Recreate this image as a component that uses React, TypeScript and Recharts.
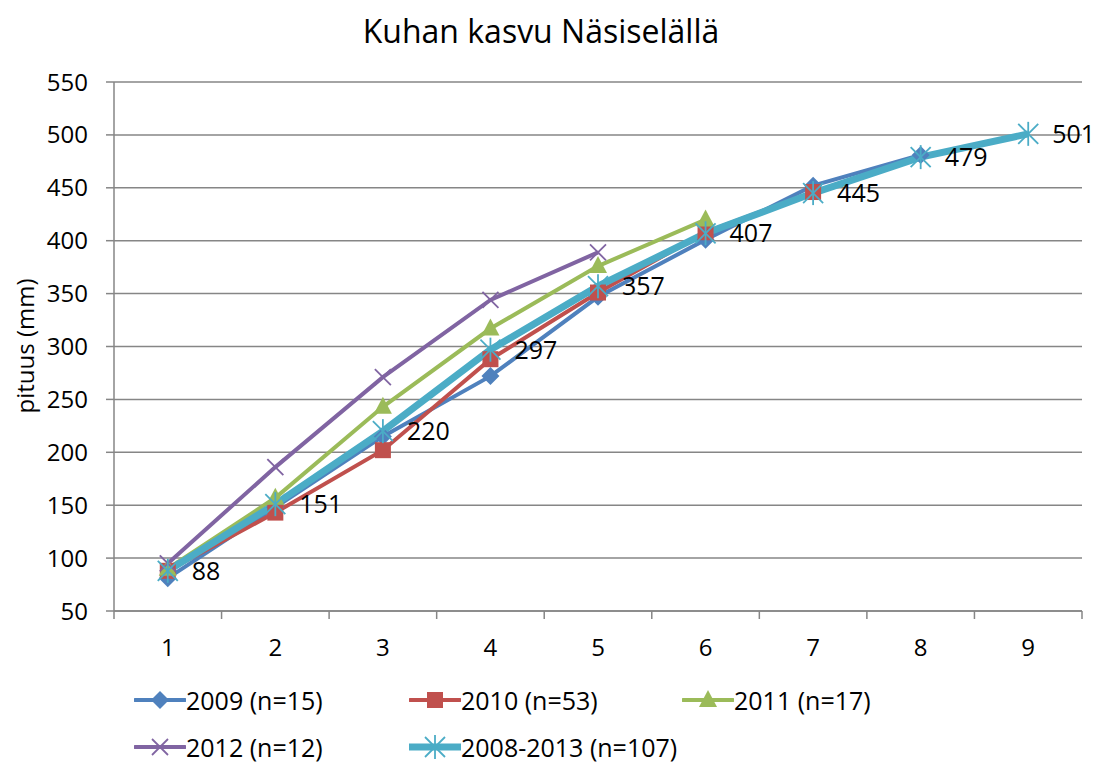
import React from "react";
import {
  LineChart,
  Line,
  XAxis,
  YAxis,
  CartesianGrid,
  LabelList,
} from "recharts";

// kasvuvuodet (ikä) ja keskipituudet (mm)
const ages = [1, 2, 3, 4, 5, 6, 7, 8, 9];
const s2009 = [81, 148, 215, 272, 347, 401, 452, 481, null];
const s2010 = [88, 143, 202, 288, 351, 408, 446, null, null];
const s2011 = [90, 157, 243, 317, 376, 420, null, null, null];
const s2012 = [95, 186, 271, 344, 389, null, null, null, null];
const sAll = [88, 151, 220, 297, 357, 407, 445, 479, 501];
const yTicks = [50, 100, 150, 200, 250, 300, 350, 400, 450, 500, 550];

const FONT = "'Open Sans', 'Liberation Sans', Arial, sans-serif";
const GRID = "#868686";

type MarkerKind = "diamond" | "square" | "triangle" | "cross" | "star";

const series: { key: string; name: string; color: string; marker: MarkerKind; width: number }[] = [
  { key: "s2009", name: "2009 (n=15)", color: "#4F81BD", marker: "diamond", width: 4 },
  { key: "s2010", name: "2010 (n=53)", color: "#C0504D", marker: "square", width: 4 },
  { key: "s2011", name: "2011 (n=17)", color: "#9BBB59", marker: "triangle", width: 4 },
  { key: "s2012", name: "2012 (n=12)", color: "#8064A2", marker: "cross", width: 4 },
  { key: "sAll", name: "2008-2013 (n=107)", color: "#4BACC6", marker: "star", width: 7 },
];

const data = ages.map((a, i) => ({
  x: a,
  s2009: s2009[i],
  s2010: s2010[i],
  s2011: s2011[i],
  s2012: s2012[i],
  sAll: sAll[i],
}));

function Marker({ kind, cx, cy, color }: { kind: MarkerKind; cx: number; cy: number; color: string }) {
  if (kind === "diamond") {
    const r = 9;
    return <polygon points={`${cx},${cy - r} ${cx + r},${cy} ${cx},${cy + r} ${cx - r},${cy}`} fill={color} />;
  }
  if (kind === "square") {
    return <rect x={cx - 8} y={cy - 8} width={16} height={16} fill={color} />;
  }
  if (kind === "triangle") {
    return <polygon points={`${cx},${cy - 10} ${cx + 9},${cy + 7} ${cx - 9},${cy + 7}`} fill={color} />;
  }
  if (kind === "cross") {
    const r = 8;
    return (
      <g stroke={color} strokeWidth={1.8}>
        <line x1={cx - r} y1={cy - r} x2={cx + r} y2={cy + r} />
        <line x1={cx - r} y1={cy + r} x2={cx + r} y2={cy - r} />
      </g>
    );
  }
  const r = 10;
  return (
    <g stroke={color} strokeWidth={1.8}>
      <line x1={cx - r} y1={cy - r} x2={cx + r} y2={cy + r} />
      <line x1={cx - r} y1={cy + r} x2={cx + r} y2={cy - r} />
      <line x1={cx} y1={cy - r - 2} x2={cx} y2={cy + r + 2} />
    </g>
  );
}

function makeDot(kind: MarkerKind, color: string) {
  return (props: any) => {
    const { cx, cy, index } = props;
    if (cx == null || cy == null || props.value == null) return <g key={`d-${kind}-${index}`} />;
    return (
      <g key={`d-${kind}-${index}`}>
        <Marker kind={kind} cx={cx} cy={cy} color={color} />
      </g>
    );
  };
}

const STEP = (1082 - 114) / 9;

function XTick(props: any) {
  const { x, y, payload, index } = props;
  return (
    <g>
      <line x1={x - STEP / 2} y1={y - 8} x2={x - STEP / 2} y2={y} stroke={GRID} strokeWidth={1.5} />
      {index === ages.length - 1 && (
        <line x1={x + STEP / 2} y1={y - 8} x2={x + STEP / 2} y2={y} stroke={GRID} strokeWidth={1.5} />
      )}
      <text x={x} y={y + 37} textAnchor="middle" fontSize={24} fontFamily={FONT} fill="#000">
        {payload.value}
      </text>
    </g>
  );
}

function ValueLabel(props: any) {
  const { x, y, value } = props;
  return (
    <text x={x + 24} y={y + 9} fontSize={25} fontFamily={FONT} fill="#000">
      {value}
    </text>
  );
}

function LegendItem({ s, left, top }: { s: (typeof series)[number]; left: number; top: number }) {
  return (
    <div style={{ position: "absolute", left, top, display: "flex", alignItems: "center" }}>
      <svg width={52} height={24}>
        <line x1={1} y1={12} x2={51} y2={12} stroke={s.color} strokeWidth={s.width} strokeLinecap="round" />
        <Marker kind={s.marker} cx={26} cy={12} color={s.color} />
      </svg>
      <span style={{ fontFamily: FONT, fontSize: 25, color: "#000", lineHeight: "24px" }}>{s.name}</span>
    </div>
  );
}

export default function App() {
  const legendPos = [
    { left: 134, top: 688 },
    { left: 409, top: 688 },
    { left: 682, top: 688 },
    { left: 134, top: 735 },
    { left: 409, top: 735 },
  ];
  return (
    <div style={{ position: "absolute", left: 0, top: 0, width: 1097, height: 763, background: "#fff" }}>
      <div
        style={{
          position: "absolute",
          left: 0,
          width: 1082,
          top: 9,
          textAlign: "center",
          fontFamily: FONT,
          fontSize: 32,
          color: "#000",
        }}
      >
        Kuhan kasvu Näsiselällä
      </div>
      <LineChart width={1097} height={763} data={data} margin={{ top: 82, right: 15, left: 0, bottom: 92 }}>
        <CartesianGrid vertical={false} stroke={GRID} strokeWidth={1.5} />
        <XAxis
          dataKey="x"
          type="number"
          domain={[0.5, 9.5]}
          ticks={ages}
          interval={0}
          height={60}
          tickLine={false}
          tickSize={8}
          tickMargin={0}
          axisLine={{ stroke: GRID, strokeWidth: 1.5 }}
          tick={<XTick />}
        />
        <YAxis
          domain={[50, 550]}
          ticks={yTicks}
          interval={0}
          width={114}
          tickSize={8}
          tickMargin={18}
          tickLine={{ stroke: GRID, strokeWidth: 1.5 }}
          axisLine={{ stroke: GRID, strokeWidth: 1.5 }}
          tick={{ fontSize: 24, fontFamily: FONT, fill: "#000" }}
          label={{
            content: () => (
              <text
                transform="translate(34,346) rotate(-90)"
                textAnchor="middle"
                fontSize={24}
                fontFamily={FONT}
                fill="#000"
              >
                pituus (mm)
              </text>
            ),
          }}
        />
        {series.map((s) => (
          <Line
            key={s.key}
            dataKey={s.key}
            name={s.name}
            stroke={s.color}
            strokeWidth={s.width}
            dot={makeDot(s.marker, s.color)}
            activeDot={false}
            isAnimationActive={false}
          >
            {s.key === "sAll" && <LabelList dataKey="sAll" content={<ValueLabel />} />}
          </Line>
        ))}
      </LineChart>
      {series.map((s, i) => (
        <LegendItem key={s.key} s={s} left={legendPos[i].left} top={legendPos[i].top} />
      ))}
    </div>
  );
}
